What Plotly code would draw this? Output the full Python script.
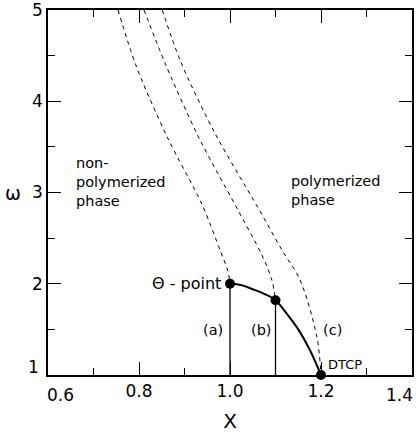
import plotly.graph_objects as go

# Dashed boundary curves (X, omega)
a_x = [0.754, 0.793, 0.862, 0.938, 0.978, 0.996, 1.0]
a_omega = [5.0, 4.397, 3.608, 2.874, 2.370, 2.129, 2.0]

b_x = [0.811, 0.859, 0.932, 1.015, 1.070, 1.092, 1.1]
b_omega = [5.0, 4.397, 3.597, 2.830, 2.315, 2.041, 1.82]

c_x = [0.851, 0.892, 0.969, 1.062, 1.114, 1.154, 1.191, 1.2]
c_omega = [5.0, 4.430, 3.630, 2.830, 2.370, 2.041, 1.416, 1.0]

# Solid line from theta-point to DTCP
solid_x = [1.0, 1.025, 1.05, 1.075, 1.1, 1.125, 1.15, 1.175, 1.2]
solid_omega = [2.0, 1.985, 1.94, 1.89, 1.82, 1.67, 1.5, 1.28, 1.0]

# Vertical lines
vert_x = [1.0, 1.1]
vert_top = [2.0, 1.82]

# Marked points
pts_x = [1.0, 1.1, 1.2]
pts_omega = [2.0, 1.82, 1.0]

x_ticks = [0.6, 0.8, 1.0, 1.2, 1.4]
y_ticks = [1, 2, 3, 4, 5]

fig = go.Figure()
dash = "4px,4px"
for xs, ys in [(a_x, a_omega), (b_x, b_omega), (c_x, c_omega)]:
    fig.add_trace(go.Scatter(x=xs, y=ys, mode="lines",
                             line=dict(color="black", width=1, dash=dash, shape="spline", smoothing=0.9),
                             showlegend=False))
fig.add_trace(go.Scatter(x=solid_x, y=solid_omega, mode="lines",
                         line=dict(color="black", width=2, shape="spline"), showlegend=False))
for vx, vt in zip(vert_x, vert_top):
    fig.add_trace(go.Scatter(x=[vx, vx], y=[1, vt], mode="lines",
                             line=dict(color="black", width=1.3), showlegend=False))
fig.add_trace(go.Scatter(x=pts_x, y=pts_omega, mode="markers",
                         marker=dict(color="black", size=10), showlegend=False, cliponaxis=False))

font = "DejaVu Sans"
def f(size):
    return dict(family=font, size=size, color="black")

fig.add_annotation(x=0.657, y=3.115, text="non-<br>polymerized<br>phase", showarrow=False,
                   xanchor="left", yanchor="middle", align="left", font=f(14.5))
fig.add_annotation(x=1.130, y=3.02, text="polymerized<br>phase", showarrow=False,
                   xanchor="left", yanchor="middle", align="left", font=f(14.5))
fig.add_annotation(x=0.985, y=2.0, text="Θ - point", showarrow=False, xanchor="right",
                   yanchor="middle", font=f(16))
fig.add_annotation(x=0.963, y=1.49, text="(a)", showarrow=False, xanchor="center", font=f(14.5))
fig.add_annotation(x=1.070, y=1.49, text="(b)", showarrow=False, xanchor="center", font=f(14.5))
fig.add_annotation(x=1.226, y=1.49, text="(c)", showarrow=False, xanchor="center", font=f(14.5))
fig.add_annotation(x=1.212, y=1.12, text="DTCP", showarrow=False, xanchor="left", font=f(13))
fig.add_annotation(x=-0.097, xref="paper", y=3, text="ω", showarrow=False, xanchor="center", font=f(19))
# corner tick labels offset as in the original
fig.add_annotation(x=0, xref="paper", y=1, text="1", showarrow=False, xanchor="right",
                   yanchor="middle", xshift=-7, yshift=8, font=f(17))
fig.add_annotation(x=0.6, y=0, yref="paper", text="0.6", showarrow=False, xanchor="center",
                   yanchor="top", xshift=12, yshift=-8, font=f(17))
fig.add_annotation(x=1.4, y=0, yref="paper", text="1.4", showarrow=False, xanchor="right",
                   yanchor="top", xshift=3, yshift=-8, font=f(17))

axis_common = dict(showgrid=False, zeroline=False, showline=True, linecolor="black", linewidth=1.5,
                   mirror="ticks", ticks="inside", ticklen=13, tickwidth=1, tickcolor="black",
                   tickfont=f(17), ticklabeloverflow="allow", automargin=False)
fig.update_xaxes(range=[0.6, 1.4], tickvals=x_ticks,
                 ticktext=["" if v in (0.6, 1.4) else f"{v:.1f}" for v in x_ticks],
                 minor=dict(ticks="inside", ticklen=7, dtick=0.1, tick0=0.6, tickcolor="black", showgrid=False),
                 title=dict(text="X", font=f(20), standoff=14), **axis_common)
fig.update_yaxes(range=[1, 5], tickvals=y_ticks,
                 ticktext=["" if v == 1 else str(v) for v in y_ticks],
                 minor=dict(ticks="inside", ticklen=7, dtick=0.5, tick0=1, tickcolor="black", showgrid=False),
                 **axis_common)
fig.update_layout(width=416, height=433, margin=dict(l=48, r=4, t=10, b=58),
                  plot_bgcolor="white", paper_bgcolor="white", showlegend=False)
fig.write_html("out.html")
